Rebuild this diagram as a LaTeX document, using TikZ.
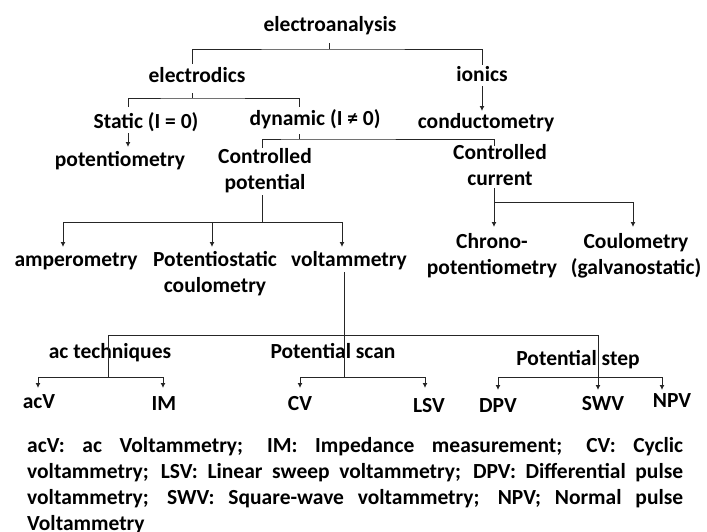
\documentclass[tikz,border=0pt]{standalone}
\usepackage{fontspec}
\setmainfont{Carlito}
\usetikzlibrary{arrows.meta}
\begin{document}
\begin{tikzpicture}[x=1pt,y=-1pt,
  lbl/.style={font=\fontsize{21.5}{26}\selectfont\bfseries, inner sep=0pt, anchor=base},
  ln/.style={line width=1pt, black!85},
  arr/.style={ln, -{Latex[length=5pt,width=5pt]}}]
\useasboundingbox (0,0) rectangle (707,531);
\newcommand{\twol}[2]{\begin{tabular}[t]{@{}c@{}}#1\\#2\end{tabular}}
% nodes
\node[lbl] (ea) at (330,31) {electroanalysis};
\node[lbl] (ed) at (197,82) {electrodics};
\node[lbl] (io) at (482,81) {ionics};
\node[lbl] (st) at (146,128) {Static (I = 0)};
\node[lbl] (dy) at (315,125) {dynamic (I ≠ 0)};
\node[lbl] (cd) at (486,128) {conductometry};
\node[lbl] (pt) at (120,166) {potentiometry};
\node[lbl] (cp) at (265,163) {\twol{Controlled}{potential}};
\node[lbl] (cc) at (500,159) {\twol{Controlled}{current}};
\node[lbl] (am) at (76,266) {amperometry};
\node[lbl] (pc) at (215,266) {\twol{Potentiostatic}{coulometry}};
\node[lbl] (vo) at (349,266) {voltammetry};
\node[lbl] (ch) at (492,248) {\twol{Chrono-}{potentiometry}};
\node[lbl] (cg) at (636,248) {\twol{Coulometry}{(galvanostatic)}};
\node[lbl] (ac) at (110,358) {ac techniques};
\node[lbl] (ps) at (333,358) {Potential scan};
\node[lbl] (pst) at (578,365) {Potential step};
\node[lbl] (acv) at (39,408) {acV};
\node[lbl] (im) at (164,410) {IM};
\node[lbl] (cv) at (300,410) {CV};
\node[lbl] (lsv) at (429,412) {LSV};
\node[lbl] (dpv) at (498,412) {DPV};
\node[lbl] (swv) at (603,410) {SWV};
\node[lbl] (npv) at (672,407) {NPV};
\node[lbl, anchor=base west] (cap) at (27,452) {\parbox[t]{656pt}{\fontsize{21.5}{26}\selectfont\bfseries
acV: ac Voltammetry; IM: Impedance measurement; CV: Cyclic\linebreak
voltammetry; LSV: Linear sweep voltammetry; DPV: Differential pulse\linebreak
voltammetry; SWV: Square-wave voltammetry; NPV; Normal pulse\linebreak
Voltammetry}};
% connector points
\coordinate (eaS) at (329,43);  \coordinate (eaB) at (329,49);
\coordinate (edT) at (192,64);  \coordinate (ioT) at (482,65);
\coordinate (ioS) at (482,86);  \coordinate (cdT) at (482,111);
\coordinate (edS) at (192,93);  \coordinate (edB) at (192,98);
\coordinate (stT) at (128,107); \coordinate (dyT) at (299,107);
\coordinate (stS) at (128,133); \coordinate (ptT) at (128,147);
\coordinate (dyS) at (299,134); \coordinate (dyB) at (299,139);
\coordinate (cpT) at (262,148); \coordinate (ccT) at (494,146);
\coordinate (cpS) at (262,195); \coordinate (cpB) at (262,222);
\coordinate (amT) at (63,247);  \coordinate (pcT) at (212,247); \coordinate (voT) at (342,247);
\coordinate (ccS) at (494,188); \coordinate (ccB) at (494,202);
\coordinate (chT) at (494,227); \coordinate (cgT) at (633,227);
\coordinate (voS) at (344,272); \coordinate (voB) at (344,335);
\coordinate (acB) at (108,377); \coordinate (psB) at (344,377); \coordinate (pstB) at (598,377);
\coordinate (acvT) at (38,388); \coordinate (imT) at (163,388);
\coordinate (cvT) at (300,388); \coordinate (lsvT) at (425,388);
\coordinate (dpvT) at (498,390); \coordinate (swvT) at (598,390); \coordinate (npvT) at (662,390);
% connectors
\draw[ln] (eaS) -- (eaB);
\draw[ln] (edT) |- (eaB) -| (ioT);
\draw[arr] (ioS) -- (cdT);
\draw[ln] (edS) -- (edB);
\draw[ln] (stT) |- (edB) -| (dyT);
\draw[arr] (stS) -- (ptT);
\draw[ln] (dyS) -- (dyB);
\draw[ln] (cpT) |- (dyB) -| (ccT);
\draw[ln] (cpS) -- (cpB);
\draw[ln] (amT |- cpB) -- (voT |- cpB);
\draw[arr] (amT |- cpB) -- (amT);
\draw[arr] (pcT |- cpB) -- (pcT);
\draw[arr] (voT |- cpB) -- (voT);
\draw[ln] (ccS) -- (ccB) -- (cgT |- ccB);
\draw[arr] (ccB) -- (chT);
\draw[arr] (cgT |- ccB) -- (cgT);
\draw[ln] (voS) -- (psB);
\draw[ln] (acB |- voB) -- (pstB |- voB);
\draw[ln] (acB |- voB) -- (acB);
\draw[arr] (pstB |- voB) -- (swvT);
\draw[ln] (acvT |- acB) -- (imT |- acB);
\draw[arr] (acvT |- acB) -- (acvT);
\draw[arr] (imT |- acB) -- (imT);
\draw[ln] (cvT |- psB) -- (lsvT |- psB);
\draw[arr] (cvT |- psB) -- (cvT);
\draw[arr] (lsvT |- psB) -- (lsvT);
\draw[ln] (dpvT |- pstB) -- (npvT |- pstB);
\draw[arr] (dpvT |- pstB) -- (dpvT);
\draw[arr] (npvT |- pstB) -- (npvT);
\end{tikzpicture}
\end{document}
